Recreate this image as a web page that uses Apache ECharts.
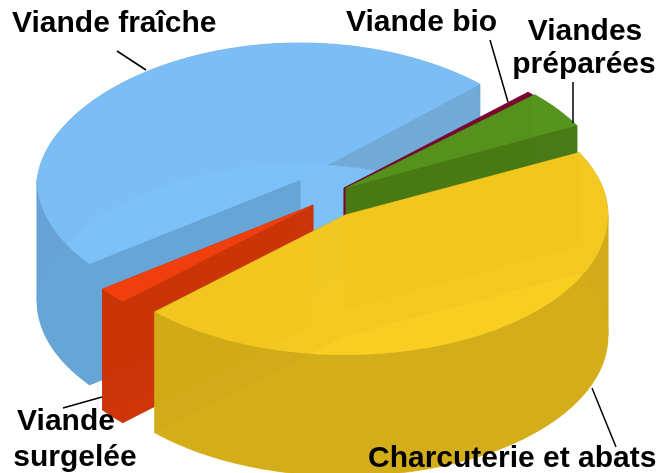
<!DOCTYPE html>
<html>
<head>
<meta charset="utf-8">
<title>Viande</title>
<style>
html, body { margin: 0; padding: 0; background: #fff; }
#chart { width: 661px; height: 473px; }
</style>
<script src="https://cdn.jsdelivr.net/npm/echarts@6/dist/echarts.min.js"></script>
</head>
<body>
<div id="chart"></div>
<script>
const categories = ["Viande fraîche", "Viande surgelée", "Charcuterie et abats", "Viandes préparées", "Viande bio"];
const shares = [47.9, 1.9, 45.4, 4.4, 0.4];

// look of the pie, same order as categories
const apex = [[300, 180], [313, 205], [345, 215], [346, 188], [344, 188]];
const topColor = ["#7dc1fa", "#f8400a", "#f8cc20", "#56981c", "#7a0030"];
const wallColor = ["#66a3d4", "#cb3408", "#d0aa18", "#497a14", "#7a0030"];
const floorColor = ["#7cc0f5", "#f05020", "#ffd837", "#60a020", "#7a0030"];
const backNarrow = [0.06, 0, 0, 0.03, 0.03];
const skipFirstWall = [true, false, false, false, false];
const drawOrder = [0, 4, 3, 1, 2];

const startAngle = 44.4;
const rx = 263, ryBack = 137, ryFront = 140, depth = 121;

const labelText = ["Viande fraîche", "Viande bio", "Viandes", "préparées", "Viande", "surgelée", "Charcuterie et abats"];
const labelPos = [[12, 39], [346, 38], [585, 47], [584, 80], [66, 437], [75, 473], [368, 474]];
const labelAlign = ["left", "left", "center", "center", "center", "center", "left"];
const leaders = [[117, 51, 146, 70], [490, 40, 508, 102], [573, 82, 573, 123], [102, 397, 63, 408], [592, 388, 616, 447]];

const chart = echarts.init(document.getElementById("chart"));

const total = shares.reduce((a, b) => a + b, 0);

function arcPoint(i, deg, drop) {
	const c = apex[i];
	const a = deg * Math.PI / 180;
	const s = Math.sin(a);
	const squeeze = s > 0 ? 1 - backNarrow[i] * s : 1;
	return [c[0] + rx * Math.cos(a) * squeeze, c[1] - (s > 0 ? ryBack : ryFront) * s + drop];
}

function arcPoints(i, from, to, drop) {
	const pts = [];
	for (let d = from; d < to; d += 1) {
		pts.push(arcPoint(i, d, drop));
	}
	pts.push(arcPoint(i, to, drop));
	return pts;
}

function face(points, color, opacity, edge) {
	const style = { fill: color, opacity: opacity };
	if (edge) {
		//thin stroke closes the seam between two walls
		style.stroke = color;
		style.lineWidth = 0.7;
	}
	return { type: "polygon", shape: { points: points }, style: style };
}

function renderSlice(params, api) {
	const i = api.value(1);
	let from = startAngle;
	for (let k = 0; k < i; k++) {
		from += shares[k] / total * 360;
	}
	const to = from + api.value(0) / total * 360;
	const c = apex[i];
	const c2 = [c[0], c[1] + depth];
	const wall = wallColor[i];
	const children = [];

	children.push(face([c2].concat(arcPoints(i, from, to, depth)), floorColor[i], 1));

	//split the rim at 180 steps, back parts first
	const cuts = [from];
	for (let m = Math.ceil(from / 180) * 180; m < to; m += 180) {
		if (m > from) cuts.push(m);
	}
	cuts.push(to);
	const back = [], front = [];
	for (let k = 0; k < cuts.length - 1; k++) {
		const mid = (cuts[k] + cuts[k + 1]) / 2;
		const top = arcPoints(i, cuts[k], cuts[k + 1], 0);
		const low = arcPoints(i, cuts[k], cuts[k + 1], depth).reverse();
		(Math.sin(mid * Math.PI / 180) > 0 ? back : front).push(top.concat(low));
	}
	back.forEach(p => children.push(face(p, wall, 0.92, true)));

	[from, to].forEach((d, n) => {
		if (n === 0 && skipFirstWall[i]) return;
		const e = arcPoint(i, d, 0);
		children.push(face([c, e, [e[0], e[1] + depth], c2], wall, 0.92, true));
	});

	front.forEach(p => children.push(face(p, wall, 0.92, true)));
	children.push(face([c].concat(arcPoints(i, from, to, 0)), topColor[i], 0.85));

	return { type: "group", children: children };
}

const textElements = labelText.map((t, i) => ({
	type: "text",
	z: 10,
	style: {
		x: labelPos[i][0],
		y: labelPos[i][1],
		text: t,
		fill: "#000",
		font: "bold 30px 'Liberation Sans', Arial, sans-serif",
		textAlign: labelAlign[i],
		textVerticalAlign: "bottom"
	}
}));

const lineElements = leaders.map(l => ({
	type: "line",
	z: 9,
	shape: { x1: l[0], y1: l[1], x2: l[2], y2: l[3] },
	style: { stroke: "#000", lineWidth: 1.5 }
}));

chart.setOption({
	animation: false,
	backgroundColor: "#fff",
	series: [{
		type: "custom",
		coordinateSystem: "none",
		renderItem: renderSlice,
		silent: true,
		data: drawOrder.map(i => [shares[i], i, categories[i]])
	}],
	graphic: { elements: lineElements.concat(textElements) }
});
</script>
</body>
</html>
